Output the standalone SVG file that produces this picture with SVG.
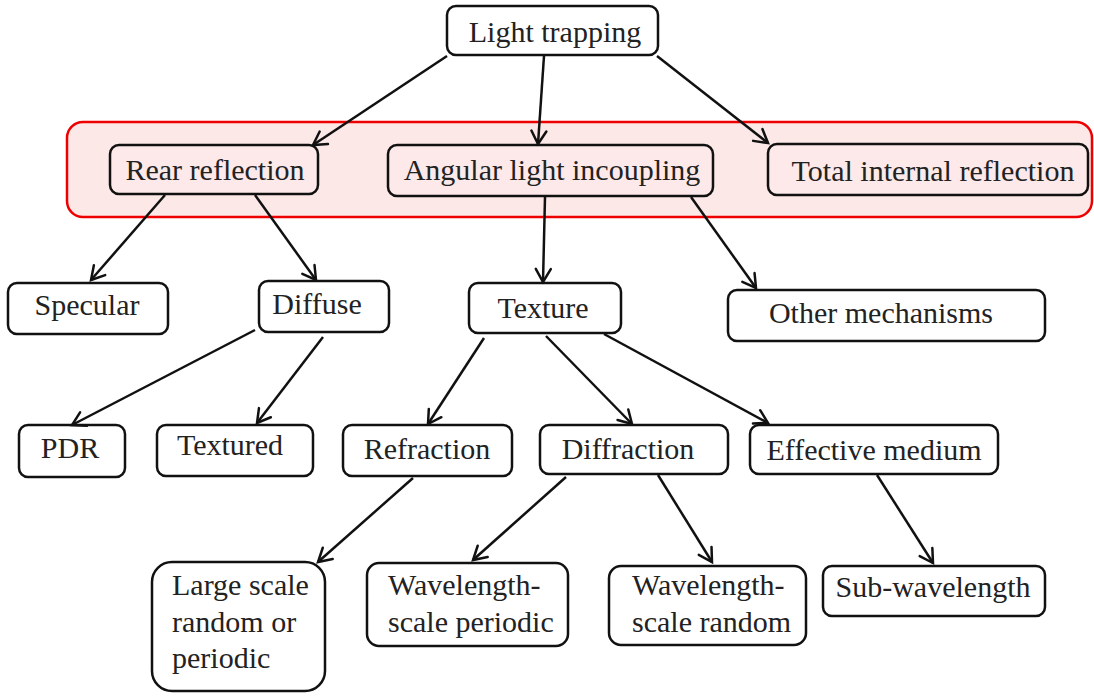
<svg xmlns="http://www.w3.org/2000/svg" width="1094" height="696" viewBox="0 0 1094 696">
<defs>
<style>
.box{fill:#ffffff;stroke:#111;stroke-width:2.5}
.pbox{fill:#fde9e9;stroke:#111;stroke-width:2.5}
.t{font-family:"Liberation Serif","Times New Roman",serif;font-size:30px;fill:#222}
.c{text-anchor:middle}
.conn line{stroke:#111;stroke-width:2.5;marker-end:url(#arr)}
</style>
<marker id="arr" markerUnits="userSpaceOnUse" markerWidth="20" markerHeight="20" viewBox="-16 -10 20 20" refX="0" refY="0" orient="auto">
<path d="M-13,-7.5 L0,0 L-13,7.5" fill="none" stroke="#111" stroke-width="2.5" stroke-linejoin="miter" stroke-linecap="round"/>
</marker>
</defs>
<rect width="1094" height="696" fill="#ffffff"/>
<g id="highlight">
<rect x="67" y="122" width="1025" height="95" rx="16" fill="#fde8e8" stroke="#ee0000" stroke-width="2.5"/>
</g>
<g id="light-trapping"><rect class="box" x="447" y="6" width="211" height="49" rx="9"/><text class="t c" x="555" y="42">Light trapping</text></g>
<g id="rear-reflection"><rect class="pbox" x="110" y="145" width="208" height="49" rx="9"/><text class="t c" x="215" y="180">Rear reflection</text></g>
<g id="angular"><rect class="pbox" x="388" y="145" width="325" height="51" rx="9"/><text class="t c" x="552" y="180">Angular light incoupling</text></g>
<g id="tir"><rect class="pbox" x="768" y="144" width="320" height="51" rx="9"/><text class="t c" x="933" y="181">Total internal reflection</text></g>
<g id="specular"><rect class="box" x="8" y="283" width="160" height="51" rx="9"/><text class="t c" x="87" y="315">Specular</text></g>
<g id="diffuse"><rect class="box" x="259" y="281" width="130" height="51" rx="9"/><text class="t c" x="317" y="314">Diffuse</text></g>
<g id="texture"><rect class="box" x="469" y="283" width="152" height="50" rx="9"/><text class="t c" x="543" y="318">Texture</text></g>
<g id="other"><rect class="box" x="728" y="290" width="317" height="51" rx="9"/><text class="t c" x="881" y="323">Other mechanisms</text></g>
<g id="pdr"><rect class="box" x="19" y="425" width="106" height="52" rx="9"/><text class="t c" x="70" y="458">PDR</text></g>
<g id="textured"><rect class="box" x="157" y="425" width="156" height="51" rx="9"/><text class="t c" x="230" y="455">Textured</text></g>
<g id="refraction"><rect class="box" x="343" y="425" width="169" height="51" rx="9"/><text class="t c" x="427" y="459">Refraction</text></g>
<g id="diffraction"><rect class="box" x="540" y="425" width="188" height="49" rx="9"/><text class="t c" x="628" y="459">Diffraction</text></g>
<g id="effective"><rect class="box" x="750" y="425" width="248" height="49" rx="9"/><text class="t c" x="874" y="460">Effective medium</text></g>
<g id="large-scale"><rect class="box" x="152" y="562" width="173" height="129" rx="20"/><text class="t" x="172" y="595">Large scale</text><text class="t" x="172" y="632">random or</text><text class="t" x="172" y="668">periodic</text></g>
<g id="wl-periodic"><rect class="box" x="367" y="563" width="201" height="83" rx="12"/><text class="t" x="388" y="595">Wavelength-</text><text class="t" x="388" y="632">scale periodic</text></g>
<g id="wl-random"><rect class="box" x="609" y="566" width="197" height="79" rx="12"/><text class="t" x="632" y="595">Wavelength-</text><text class="t" x="632" y="632">scale random</text></g>
<g id="sub-wavelength"><rect class="box" x="823" y="566" width="222" height="50" rx="9"/><text class="t c" x="933" y="597">Sub-wavelength</text></g>
<g id="connectors" class="conn">
<line x1="447" y1="56" x2="313" y2="145"/>
<line x1="544" y1="56" x2="538" y2="144"/>
<line x1="657" y1="56" x2="768" y2="143"/>
<line x1="165" y1="195" x2="91" y2="280"/>
<line x1="255" y1="195" x2="316" y2="280"/>
<line x1="545" y1="197" x2="543" y2="282"/>
<line x1="691" y1="197" x2="756" y2="288"/>
<line x1="255" y1="330" x2="72" y2="425"/>
<line x1="323" y1="337" x2="257" y2="423"/>
<line x1="484" y1="338" x2="428" y2="424"/>
<line x1="546" y1="336" x2="632" y2="424"/>
<line x1="604" y1="334" x2="768" y2="423"/>
<line x1="413" y1="478" x2="318" y2="562"/>
<line x1="566" y1="477" x2="473" y2="560"/>
<line x1="658" y1="475" x2="712" y2="562"/>
<line x1="877" y1="475" x2="933" y2="563"/>
</g>
</svg>
